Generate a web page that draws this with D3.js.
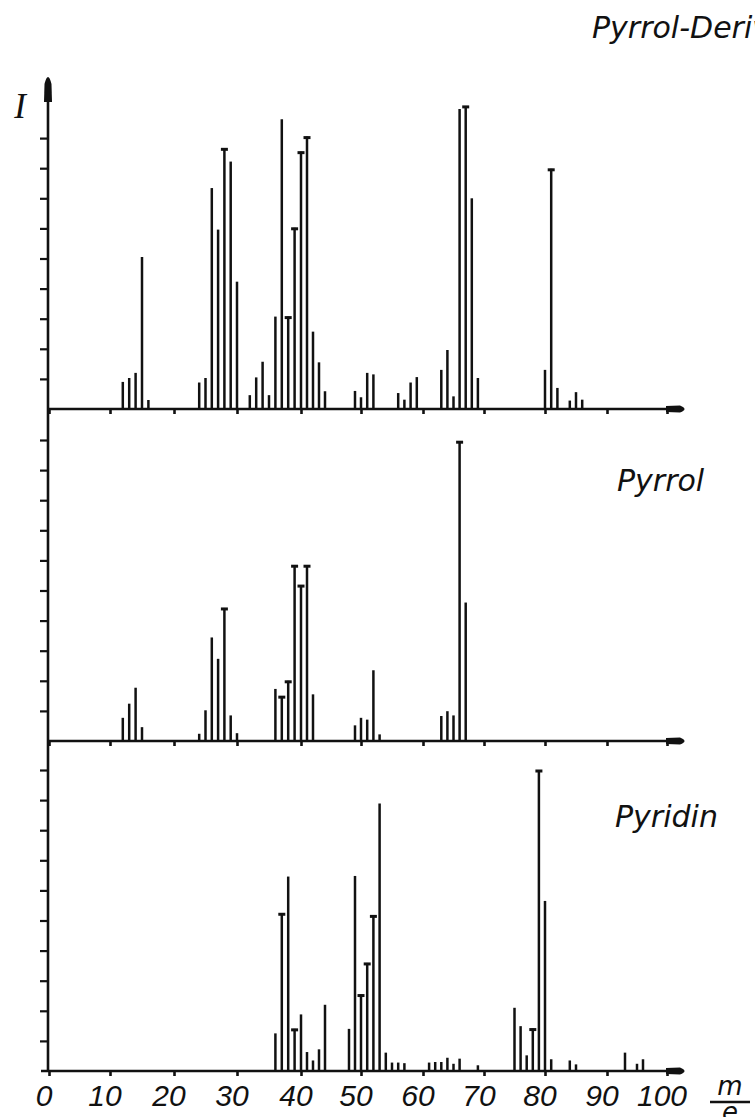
<!DOCTYPE html>
<html>
<head>
<meta charset="utf-8">
<script src="https://cdn.jsdelivr.net/npm/d3@7/dist/d3.min.js"></script>
<style>
  body { margin: 0; background: #fff; }
  svg { display: block; }
</style>
</head>
<body>
<div id="chart"></div>
<script>
// m/e values and relative intensities (%)
var derivMz = [12, 13, 14, 15, 16, 24, 25, 26, 27, 28, 29, 30, 32, 33, 34, 35, 36, 37, 38, 39, 40, 41, 42, 43, 44,
  49, 50, 51, 52, 56, 57, 58, 59, 63, 64, 65, 66, 67, 68, 69, 80, 81, 82, 84, 85, 86];
var derivI = [9, 10.3, 12, 50.5, 3, 8.8, 10.3, 73.4, 59.6, 86.6, 82.2, 42.3, 4.6, 10.5, 15.7, 4.6, 30.7, 96.3, 30.7, 60.2, 85.5, 90.5, 25.7, 15.5, 5.9,
  6, 3.9, 12, 11.5, 5.3, 3.1, 8.8, 10.6, 13, 19.6, 4.2, 99.7, 100.7, 70, 10.3, 13, 79.8, 7, 2.8, 5.6, 3.1];
var derivCapped = [28, 38, 39, 40, 41, 67, 81];

var pyrrolMz = [12, 13, 14, 15, 24, 25, 26, 27, 28, 29, 30, 36, 37, 38, 39, 40, 41, 42, 49, 50, 51, 52, 53, 63, 64, 65, 66, 67];
var pyrrolI = [7.7, 12.4, 17.7, 4.6, 2.4, 10.2, 34.4, 27.3, 44.2, 8.5, 2.6, 17.3, 14.9, 20, 58.4, 51.8, 58.4, 15.5, 5.2, 7.7, 7.1, 23.5, 2.2, 8.3, 9.9, 8.5, 99.6, 46];
var pyrrolCapped = [28, 37, 38, 39, 40, 41, 66];

var pyridinMz = [36, 37, 38, 39, 40, 41, 42, 43, 44, 48, 49, 50, 51, 52, 53, 54, 55, 56, 57, 61, 62, 63, 64, 65, 66, 69,
  75, 76, 77, 78, 79, 80, 81, 84, 85, 93, 95, 96];
var pyridinI = [12.5, 52.4, 64.6, 14, 18.8, 6.3, 3.5, 7.2, 22, 14, 64.8, 25.4, 35.9, 51.7, 88.9, 6.1, 2.8, 2.8, 2.6, 2.8, 3, 3, 4.4, 2.4, 4.1, 1.9,
  21, 14.9, 5.2, 14.1, 100, 56.5, 3.9, 3.5, 2.2, 6.1, 2.4, 3.9];
var pyridinCapped = [37, 39, 50, 51, 52, 78, 79];

var titles = ['Pyrrol-Derivat', 'Pyrrol', 'Pyridin'];
var xTicks = d3.range(0, 101, 10);
var yTicksTop = d3.range(10, 91, 10);
var yTicksRest = d3.range(10, 101, 10);

// layout
var width = 755, height = 1117;
var axisX = 48;
var baselines = [409, 741, 1071];
var panelHeight = 301;
var titlePos = [[592, 38], [617, 491], [615, 827]];
var ink = '#111';

var panels = [
  { mz: derivMz, inten: derivI, capped: derivCapped, ticks: yTicksTop },
  { mz: pyrrolMz, inten: pyrrolI, capped: pyrrolCapped, ticks: yTicksRest },
  { mz: pyridinMz, inten: pyridinI, capped: pyridinCapped, ticks: yTicksRest }
];

// hand drawn axis: tick positions are not perfectly even
var scaleX = d3.scaleLinear()
  .domain(xTicks)
  .range([49, 110, 174, 237, 301, 361, 423, 484, 545, 607, 667]);

var svg = d3.select('#chart')
  .append('svg')
  .attr('width', width)
  .attr('height', height);

// vertical axis, shared by all three spectra
svg.append('line')
  .attr('x1', axisX).attr('x2', axisX)
  .attr('y1', baselines[2] + 1).attr('y2', 98)
  .attr('stroke', ink).attr('stroke-width', 2.6);

svg.append('path')
  .attr('d', 'M' + (axisX - 4) + ',102 L' + (axisX + 4) + ',102 L' + (axisX + 3.5) + ',84 Q' + axisX + ',70 ' + (axisX - 3.5) + ',84 Z')
  .attr('fill', ink);

svg.append('text')
  .attr('x', 20).attr('y', 118)
  .attr('text-anchor', 'middle')
  .attr('font-family', '"Liberation Serif", "DejaVu Serif", serif')
  .attr('font-style', 'italic')
  .attr('font-size', 35)
  .attr('fill', ink)
  .text('I');

panels.forEach(function (p, k) {
  var base = baselines[k];
  var scaleY = d3.scaleLinear()
    .domain([0, 100])
    .range([base, base - panelHeight]);

  var rows = p.mz.map(function (m, i) {
    return { mz: m, i: p.inten[i], cap: p.capped.indexOf(m) >= 0 };
  });

  var g = svg.append('g');

  // y ticks
  var yAxis = d3.axisLeft(scaleY)
    .tickValues(p.ticks)
    .tickSize(8)
    .tickFormat('');
  g.append('g')
    .attr('transform', 'translate(' + axisX + ',0)')
    .call(yAxis)
    .call(function (sel) {
      sel.select('.domain').remove();
      sel.selectAll('line').attr('stroke', ink).attr('stroke-width', 2.2);
    });

  // x ticks
  var xAxis = d3.axisBottom(scaleX)
    .tickValues(xTicks)
    .tickSize(5)
    .tickFormat('');
  g.append('g')
    .attr('transform', 'translate(0,' + base + ')')
    .call(xAxis)
    .call(function (sel) {
      sel.select('.domain').remove();
      sel.selectAll('line').attr('stroke', ink).attr('stroke-width', 2.6);
    });

  // baseline with arrow
  g.append('line')
    .attr('x1', k === 2 ? axisX - 7 : axisX).attr('x2', 672)
    .attr('y1', base).attr('y2', base)
    .attr('stroke', ink).attr('stroke-width', 2.6);

  g.append('path')
    .attr('d', 'M666,' + (base - 3) + ' L680,' + (base - 3.5) + ' Q689,' + base + ' 680,' + (base + 3.5) + ' L666,' + (base + 3) + ' Z')
    .attr('fill', ink);

  // peaks
  g.selectAll('line.peak')
    .data(rows)
    .enter()
    .append('line')
    .attr('class', 'peak')
    .attr('x1', function (d) { return scaleX(d.mz); })
    .attr('x2', function (d) { return scaleX(d.mz); })
    .attr('y1', base)
    .attr('y2', function (d) { return scaleY(d.i); })
    .attr('stroke', ink)
    .attr('stroke-width', 2.5);

  g.selectAll('line.cap')
    .data(rows.filter(function (d) { return d.cap; }))
    .enter()
    .append('line')
    .attr('class', 'cap')
    .attr('x1', function (d) { return scaleX(d.mz) - 3.5; })
    .attr('x2', function (d) { return scaleX(d.mz) + 3.5; })
    .attr('y1', function (d) { return scaleY(d.i) + 1; })
    .attr('y2', function (d) { return scaleY(d.i) + 1; })
    .attr('stroke', ink)
    .attr('stroke-width', 3);

  g.append('text')
    .attr('x', titlePos[k][0]).attr('y', titlePos[k][1])
    .attr('font-family', '"DejaVu Sans", sans-serif')
    .attr('font-style', 'italic')
    .attr('font-size', 30)
    .attr('fill', ink)
    .text(titles[k]);
});

// tick labels under the bottom spectrum
svg.append('g')
  .selectAll('text')
  .data(xTicks)
  .enter()
  .append('text')
  .attr('x', function (d) { return scaleX(d) - 5; })
  .attr('y', 1106)
  .attr('text-anchor', 'middle')
  .attr('font-family', '"Liberation Sans", Arial, sans-serif')
  .attr('font-style', 'italic')
  .attr('font-size', 30)
  .attr('fill', ink)
  .text(function (d) { return d; });

// m/e unit
svg.append('text')
  .attr('x', 730).attr('y', 1095)
  .attr('text-anchor', 'middle')
  .attr('font-family', '"DejaVu Sans", sans-serif')
  .attr('font-style', 'italic')
  .attr('font-size', 26)
  .attr('fill', ink)
  .text('m');

svg.append('line')
  .attr('x1', 710).attr('x2', 750)
  .attr('y1', 1102).attr('y2', 1102)
  .attr('stroke', ink).attr('stroke-width', 2.5);

svg.append('text')
  .attr('x', 730).attr('y', 1121)
  .attr('text-anchor', 'middle')
  .attr('font-family', '"DejaVu Sans", sans-serif')
  .attr('font-style', 'italic')
  .attr('font-size', 26)
  .attr('fill', ink)
  .text('e');
</script>
</body>
</html>
